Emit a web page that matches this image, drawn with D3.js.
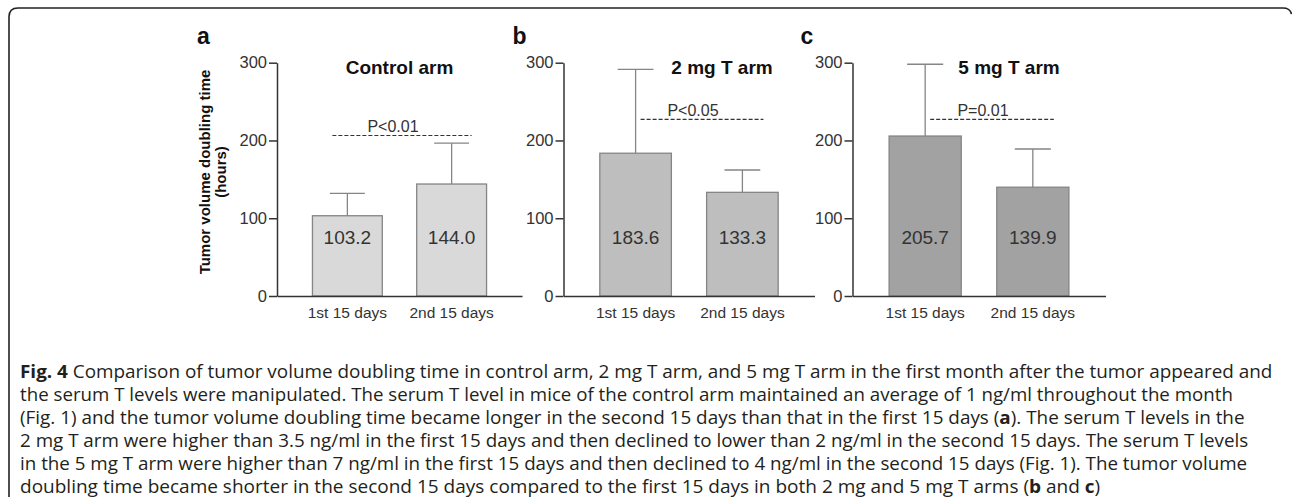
<!DOCTYPE html>
<html><head><meta charset="utf-8">
<script src="https://cdn.jsdelivr.net/npm/d3@7"></script>
<style>
html,body{margin:0;padding:0;background:#fff;}
svg{display:block;}
</style></head>
<body>
<svg id="chart" width="1292" height="500"></svg>
<script>
// ---------- data ----------
const categories = ["1st 15 days", "2nd 15 days"];
const panelLetters = ["a", "b", "c"];
const panelTitles = ["Control arm", "2 mg T arm", "5 mg T arm"];
const controlMeans = [103.2, 144.0];
const controlSD = [28.8, 52.5];
const mg2Means = [183.6, 133.3];
const mg2SD = [107.8, 28.7];
const mg5Means = [205.7, 139.9];
const mg5SD = [92.3, 49.1];
const pLabels = ["P<0.01", "P<0.05", "P=0.01"];
const pLevels = [206.4, 227, 227];
const yTicks = [0, 100, 200, 300];
const yTitle = ["Tumor volume doubling time", "(hours)"];
const captionLines = [
  [["Fig. 4", true], [" Comparison of tumor volume doubling time in control arm, 2 mg T arm, and 5 mg T arm in the first month after the tumor appeared and", false]],
  [["the serum T levels were manipulated. The serum T level in mice of the control arm maintained an average of 1 ng/ml throughout the month", false]],
  [["(Fig. 1) and the tumor volume doubling time became longer in the second 15 days than that in the first 15 days (", false], ["a", true], ["). The serum T levels in the", false]],
  [["2 mg T arm were higher than 3.5 ng/ml in the first 15 days and then declined to lower than 2 ng/ml in the second 15 days. The serum T levels", false]],
  [["in the 5 mg T arm were higher than 7 ng/ml in the first 15 days and then declined to 4 ng/ml in the second 15 days (Fig. 1). The tumor volume", false]],
  [["doubling time became shorter in the second 15 days compared to the first 15 days in both 2 mg and 5 mg T arms (", false], ["b", true], [" and ", false], ["c", true], [")", false]]
];

// ---------- layout ----------
const svg = d3.select("#chart");
const panels = [
  {means: controlMeans, sd: controlSD, fill: "#d9d9d9", ax: 277,   w: 245, titleDx: 0,  dashFrom: -15, dashTo: 20},
  {means: mg2Means,     sd: mg2SD,     fill: "#bebebe", ax: 563.5, w: 251, titleDx: 33, dashFrom: 5,   dashTo: 21},
  {means: mg5Means,     sd: mg5SD,     fill: "#a2a2a2", ax: 852.5, w: 253, titleDx: 30, dashFrom: 5,   dashTo: 21}
];
const letterDx = [-80, -51, -52];
const y = d3.scaleLinear().domain([0, 300]).range([296, 62.7]);
const AX = "#333";
const FONT = "'Liberation Sans', Arial, sans-serif";

// frame
svg.append("path")
  .attr("d", "M9,497 L9,17 Q9,8 18,8 L1283,8 Q1290,8 1291.5,14")
  .attr("fill", "none").attr("stroke", "#222").attr("stroke-width", 1.6);

panels.forEach((p, i) => {
  const g = svg.append("g").attr("transform", `translate(${p.ax},0)`);
  const x = d3.scaleBand().domain(categories).range([0, p.w]).paddingInner(0.33).paddingOuter(0.34);
  const bw = x.bandwidth();

  // bars
  g.selectAll("rect.bar").data(categories).join("rect")
    .attr("class", "bar")
    .attr("x", d => x(d)).attr("width", bw)
    .attr("y", (d, k) => y(p.means[k]))
    .attr("height", (d, k) => y(0) - y(p.means[k]))
    .attr("fill", p.fill).attr("stroke", "#858585").attr("stroke-width", 1.3);

  // error bars (upper only)
  const eg = g.selectAll("g.err").data(categories).join("g").attr("class", "err");
  eg.append("line")
    .attr("x1", d => x(d) + bw / 2).attr("x2", d => x(d) + bw / 2)
    .attr("y1", (d, k) => y(p.means[k])).attr("y2", (d, k) => y(p.means[k] + p.sd[k]))
    .attr("stroke", "#858585").attr("stroke-width", 1.3);
  eg.append("line")
    .attr("x1", d => x(d) + bw / 4).attr("x2", d => x(d) + bw * 3 / 4)
    .attr("y1", (d, k) => y(p.means[k] + p.sd[k])).attr("y2", (d, k) => y(p.means[k] + p.sd[k]))
    .attr("stroke", "#858585").attr("stroke-width", 1.3);

  // value labels
  g.selectAll("text.val").data(categories).join("text")
    .attr("class", "val")
    .attr("x", d => x(d) + bw / 2).attr("y", y(67))
    .attr("text-anchor", "middle")
    .attr("font-family", FONT).attr("font-size", 19).attr("fill", "#333")
    .text((d, k) => p.means[k].toFixed(1));

  // y axis
  const ya = g.append("g").call(d3.axisLeft(y).tickValues(yTicks).tickSize(8).tickSizeOuter(0).tickPadding(2));
  ya.select(".domain").attr("stroke", AX).attr("stroke-width", 1.5);
  ya.selectAll(".tick line").attr("stroke", AX).attr("stroke-width", 1.5);
  ya.selectAll(".tick text").attr("font-family", FONT).attr("font-size", 16.5).attr("fill", "#333");

  // x axis
  const xa = g.append("g").attr("transform", `translate(0,${y(0)})`)
    .call(d3.axisBottom(x).tickSize(0).tickSizeOuter(0).tickPadding(11));
  xa.select(".domain").attr("stroke", AX).attr("stroke-width", 1.5);
  xa.selectAll(".tick text").attr("font-family", FONT).attr("font-size", 15.5).attr("fill", "#333");

  // significance dashed line
  const dx1 = x(categories[0]) + bw / 2 + p.dashFrom;
  const dx2 = x(categories[1]) + bw / 2 + p.dashTo;
  g.append("line")
    .attr("x1", dx1).attr("x2", dx2)
    .attr("y1", y(pLevels[i])).attr("y2", y(pLevels[i]))
    .attr("stroke", "#333").attr("stroke-width", 1.2).attr("stroke-dasharray", "4,2");
  g.append("text")
    .attr("x", (dx1 + dx2) / 2 - 9).attr("y", y(pLevels[i]) - 3.5)
    .attr("text-anchor", "middle")
    .attr("font-family", FONT).attr("font-size", 16).attr("fill", "#333")
    .text(pLabels[i]);

  // title
  g.append("text")
    .attr("x", p.w / 2 + p.titleDx).attr("y", 74)
    .attr("text-anchor", "middle")
    .attr("font-family", FONT).attr("font-size", 19).attr("font-weight", "bold").attr("fill", "#111")
    .text(panelTitles[i]);

  // panel letter
  g.append("text")
    .attr("x", letterDx[i]).attr("y", 44)
    .attr("font-family", FONT).attr("font-size", 23).attr("font-weight", "bold").attr("fill", "#111")
    .text(panelLetters[i]);
});

// y axis title (panel a only)
const yt = svg.append("text")
  .attr("transform", "translate(210,172) rotate(-90)")
  .attr("text-anchor", "middle")
  .attr("font-family", FONT).attr("font-size", 15).attr("font-weight", "bold").attr("fill", "#111");
yt.append("tspan").attr("x", 0).attr("y", 0).text(yTitle[0]);
yt.append("tspan").attr("x", 0).attr("y", 16).text(yTitle[1]);

// caption
const capEnds = [1273, 1233, 1245, 1249, 1248, 1101];
const capStart = 20;
captionLines.forEach((line, li) => {
  const t = svg.append("text")
    .attr("x", 0).attr("y", 0)
    .attr("font-family", "'Open Sans', 'Noto Sans', sans-serif").attr("font-size", 17.5).attr("fill", "#231f20")
    .attr("xml:space", "preserve");
  line.forEach(([s, b]) => {
    t.append("tspan").attr("font-weight", b ? "bold" : "normal").text(s);
  });
  const w = t.node().getComputedTextLength();
  const sx = (capEnds[li] - capStart) / w;
  t.attr("transform", `translate(${capStart},${378 + li * 22.9}) scale(${sx},1)`);
});
</script>
</body></html>
